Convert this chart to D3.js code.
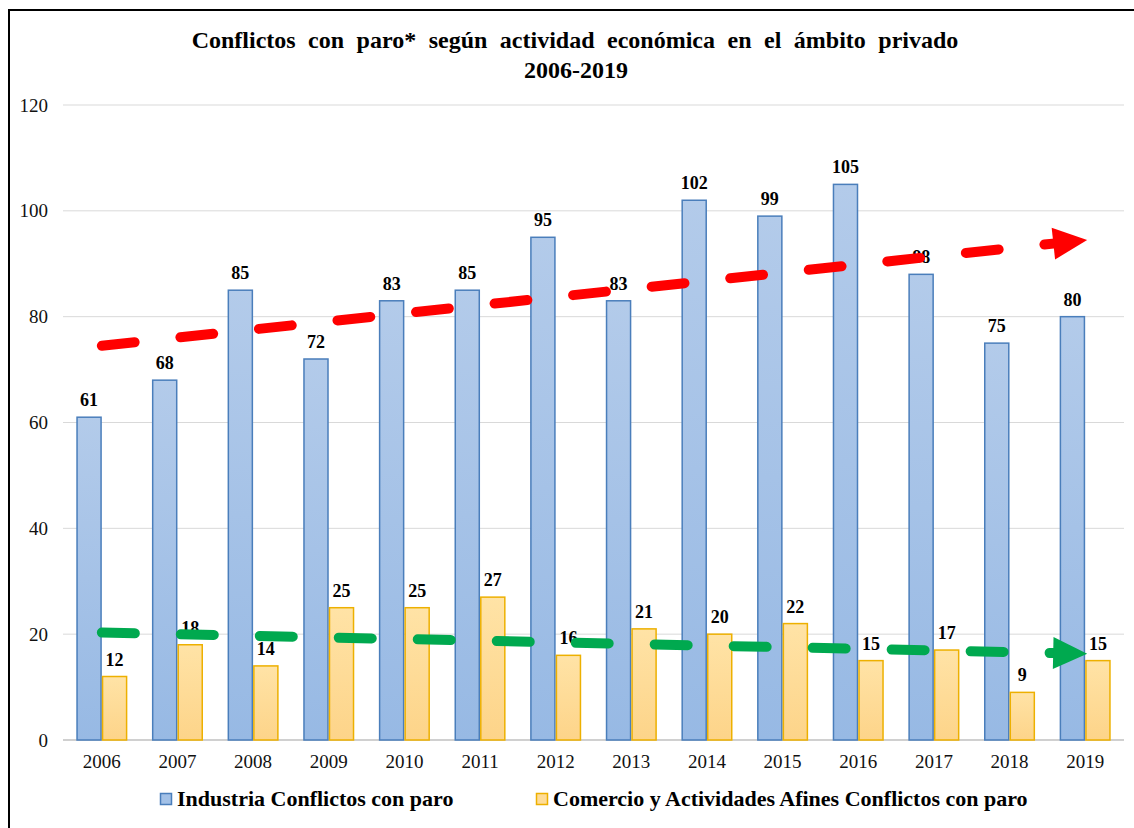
<!DOCTYPE html>
<html>
<head>
<meta charset="utf-8">
<script src="https://cdn.jsdelivr.net/npm/d3@7/dist/d3.min.js"></script>
<style>
  html, body { margin: 0; padding: 0; background: #fff; }
  svg { display: block; }
</style>
</head>
<body>
<script>
// ---- data ----
const years = ["2006","2007","2008","2009","2010","2011","2012","2013","2014","2015","2016","2017","2018","2019"];
const industria = [61, 68, 85, 72, 83, 85, 95, 83, 102, 99, 105, 88, 75, 80];
const comercio  = [12, 18, 14, 25, 25, 27, 16, 21, 20, 22, 15, 17, 9, 15];
const seriesNames = ["Industria Conflictos con paro", "Comercio y Actividades Afines Conflictos con paro"];
const yTicks = [0, 20, 40, 60, 80, 100, 120];
// trend arrows: value at first year, value at last year
const industriaTrend = [74.5, 94.5];
const comercioTrend  = [20.3, 16.3];
const titleLines = ["Conflictos con paro* según actividad económica en el ámbito privado", "2006-2019"];

// ---- layout ----
const W = 1134, H = 828;
const plot = { left: 64, right: 1123, top: 105, bottom: 740 };
const serif = "'Liberation Serif', 'Times New Roman', serif";

const svg = d3.select("body").append("svg").attr("width", W).attr("height", H);

// gradients for bar fills
const defs = svg.append("defs");
function grad(id, top, bottom) {
  const g = defs.append("linearGradient").attr("id", id)
    .attr("x1", 0).attr("y1", 0).attr("x2", 0).attr("y2", 1);
  g.append("stop").attr("offset", "0%").attr("stop-color", top);
  g.append("stop").attr("offset", "100%").attr("stop-color", bottom);
}
grad("gBlue", "#b3cbea", "#97b9e4");
grad("gYellow", "#ffe3a6", "#fdd489");

const colors = [
  { fill: "url(#gBlue)", stroke: "#4a7ebb", swatch: "#a3c1e7" },
  { fill: "url(#gYellow)", stroke: "#edb000", swatch: "#fedc98" }
];

// frame lines (top and left)
svg.append("line").attr("x1", 8).attr("x2", W).attr("y1", 10).attr("y2", 10)
  .attr("stroke", "#000").attr("stroke-width", 2);
svg.append("line").attr("x1", 9).attr("x2", 9).attr("y1", 9).attr("y2", H)
  .attr("stroke", "#000").attr("stroke-width", 2);

// title
svg.append("text").attr("x", 575).attr("y", 48).attr("text-anchor", "middle")
  .attr("font-family", serif).attr("font-weight", "bold").attr("font-size", 24)
  .attr("word-spacing", "6.5px").text(titleLines[0]);
svg.append("text").attr("x", 576).attr("y", 78).attr("text-anchor", "middle")
  .attr("font-family", serif).attr("font-weight", "bold").attr("font-size", 24)
  .text(titleLines[1]);

// scales
const x = d3.scaleBand().domain(years).range([plot.left, plot.right])
  .paddingInner(0.325).paddingOuter(0.1625);
const xs = d3.scaleBand().domain([0, 1]).range([0, x.bandwidth()]);
const y = d3.scaleLinear().domain([0, 120]).range([plot.bottom, plot.top]);
const cx = yr => x(yr) + x.bandwidth() / 2;

// gridlines
svg.append("g").selectAll("line").data(yTicks).join("line")
  .attr("x1", plot.left - 1).attr("x2", plot.right + 1)
  .attr("y1", d => y(d)).attr("y2", d => y(d))
  .attr("stroke", d => d === 0 ? "#d0d0d0" : "#d9d9d9")
  .attr("stroke-width", d => d === 0 ? 2 : 1);

// y axis labels
const yAxis = d3.axisLeft(y).tickValues(yTicks).tickSize(0).tickPadding(0);
svg.append("g").attr("transform", "translate(48,0)").call(yAxis)
  .call(g => g.select(".domain").remove())
  .selectAll("text").attr("font-family", serif).attr("font-size", 19).attr("fill", "#111");

// x axis labels
const xAxis = d3.axisBottom(x).tickSize(0).tickPadding(0);
svg.append("g").attr("transform", "translate(0,754)").call(xAxis)
  .call(g => g.select(".domain").remove())
  .selectAll("text").attr("font-family", serif).attr("font-size", 19).attr("fill", "#111");

// bars
const seriesData = [industria, comercio];
seriesData.forEach((vals, si) => {
  const g = svg.append("g");
  g.selectAll("rect").data(vals).join("rect")
    .attr("x", (d, i) => x(years[i]) + xs(si) + 0.75)
    .attr("width", xs.bandwidth() - 1.5)
    .attr("y", d => y(d))
    .attr("height", d => y(0) - y(d))
    .attr("fill", colors[si].fill)
    .attr("stroke", colors[si].stroke)
    .attr("stroke-width", 1.5);
  g.selectAll("text").data(vals).join("text")
    .attr("x", (d, i) => x(years[i]) + xs(si) + xs.bandwidth() / 2)
    .attr("y", d => y(d) - 11)
    .attr("text-anchor", "middle")
    .attr("font-family", serif).attr("font-weight", "bold").attr("font-size", 18)
    .attr("fill", "#000")
    .text(d => d);
});

// trend arrows
function trendArrow(vals, color) {
  const x0 = cx(years[0]), y0 = y(vals[0]);
  const x1 = cx(years[years.length - 1]) + 2, y1 = y(vals[1]);
  const dx = x1 - x0, dy = y1 - y0, len = Math.hypot(dx, dy);
  const ux = dx / len, uy = dy / len;
  const head = 34, half = 16;
  const bx = x1 - ux * head, by = y1 - uy * head;
  svg.append("path")
    .attr("d", `M${x0},${y0}L${bx + ux * 2},${by + uy * 2}`)
    .attr("stroke", color).attr("stroke-width", 10)
    .attr("stroke-linecap", "round").attr("stroke-dasharray", "33,46")
    .attr("fill", "none");
  svg.append("path")
    .attr("d", `M${x1},${y1}L${bx - uy * half},${by + ux * half}L${bx + uy * half},${by - ux * half}Z`)
    .attr("fill", color);
}
trendArrow(industriaTrend, "#ff0000");
trendArrow(comercioTrend, "#00a94f");

// legend
const legendItems = [
  { sx: 160, tx: 177 },
  { sx: 536, tx: 553 }
];
legendItems.forEach((l, i) => {
  svg.append("rect").attr("x", l.sx + 0.5).attr("y", 793.5).attr("width", 11).attr("height", 11)
    .attr("fill", colors[i].swatch).attr("stroke", colors[i].stroke).attr("stroke-width", 1.5);
  svg.append("text").attr("x", l.tx).attr("y", 806)
    .attr("font-family", serif).attr("font-weight", "bold").attr("font-size", 22)
    .text(seriesNames[i]);
});
</script>
</body>
</html>
